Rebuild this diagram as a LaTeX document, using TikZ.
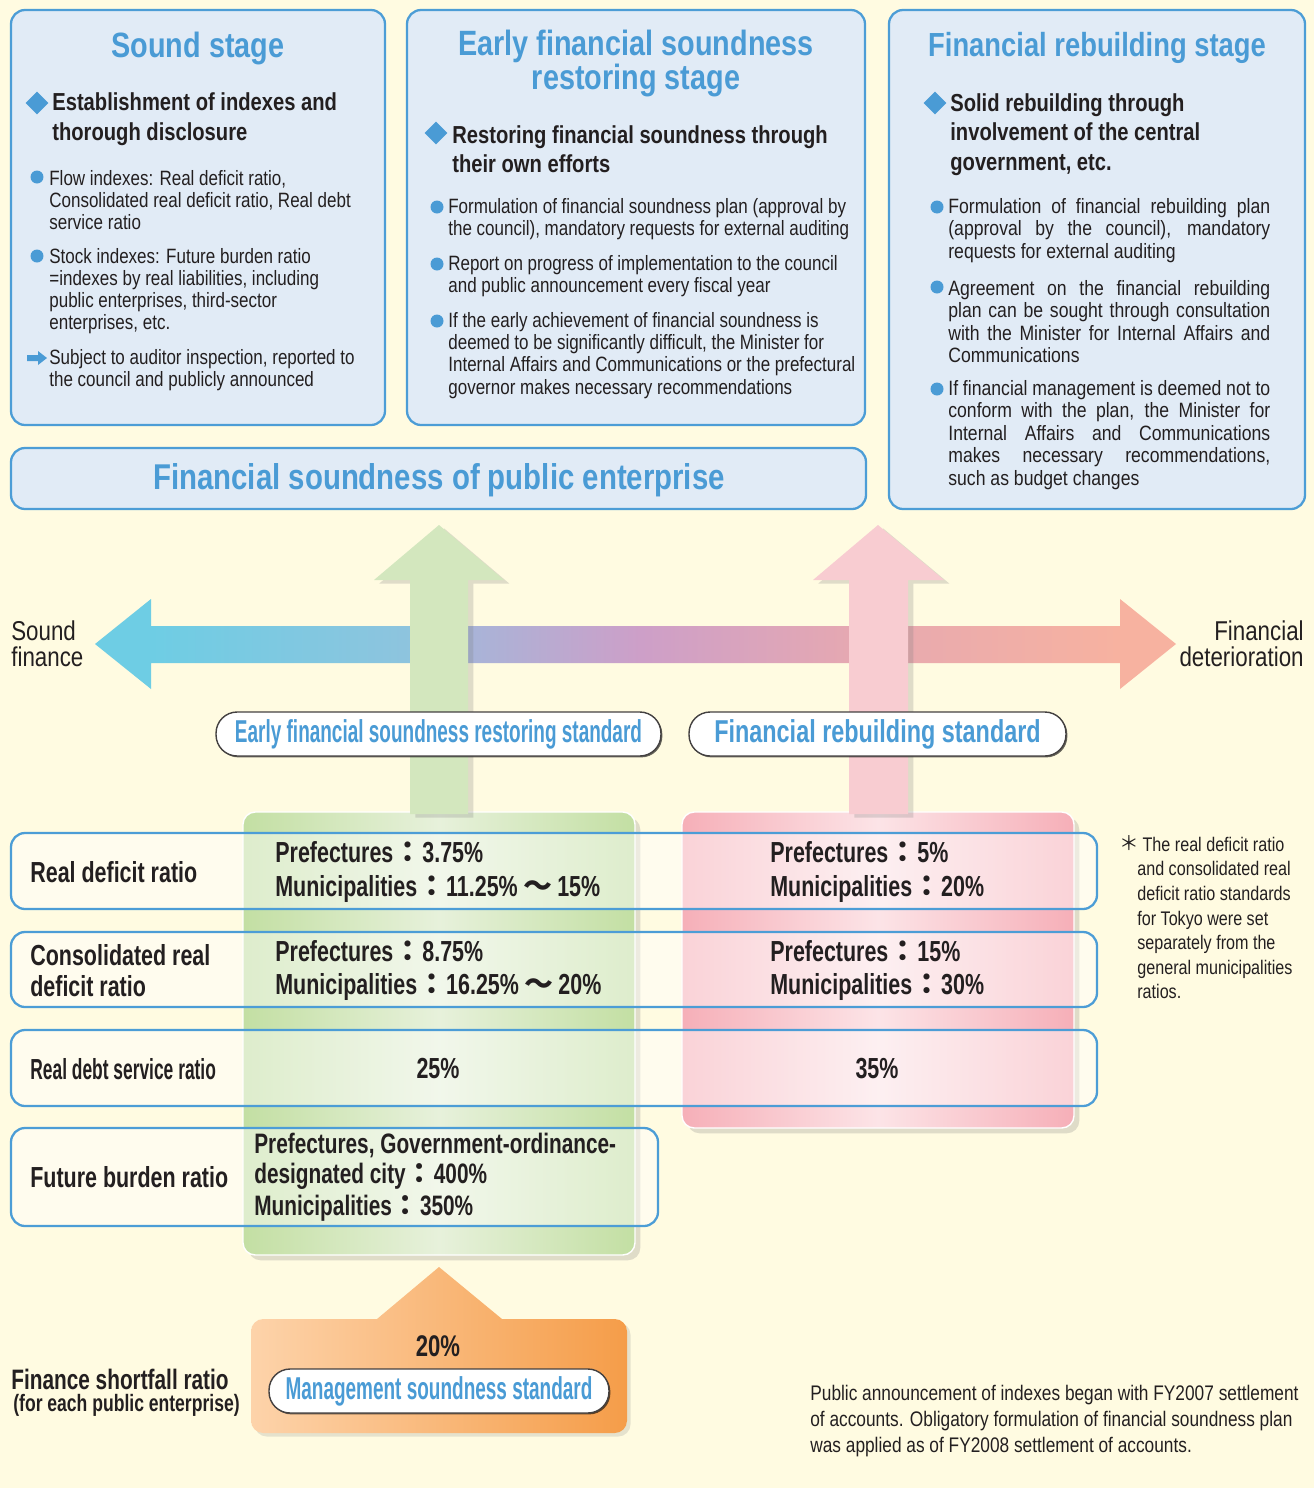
\documentclass[tikz,border=0pt]{standalone}
\usepackage{fontspec}
\setmainfont{Liberation Sans}[FakeStretch=0.82]
\newfontfamily\condfont{Liberation Sans}[FakeStretch=0.74]
\newfontfamily\xcondfont{Liberation Sans}[FakeStretch=0.6]
\newfontfamily\widefont{Liberation Sans}[FakeStretch=0.85]
\newfontfamily\cjkfont{Noto Sans CJK JP}
\usepackage{tikz}
\usetikzlibrary{positioning,shapes.geometric,shadows}
\usepackage{xcolor}
\definecolor{pageColor}{HTML}{FFFBE1}
\definecolor{panelColor}{HTML}{E1EBF6}
\definecolor{frameColor}{HTML}{4C9DD6}
\definecolor{titleColor}{HTML}{4A9BD5}
\definecolor{inkColor}{HTML}{231F20}
\definecolor{soundColor}{HTML}{6ECDE4}
\definecolor{trendBlue}{HTML}{8EC4DE}
\definecolor{trendLilac}{HTML}{A8B4D8}
\definecolor{trendMauve}{HTML}{CD9FC8}
\definecolor{trendRose}{HTML}{E5A8B2}
\definecolor{badColor}{HTML}{F7B2A0}
\definecolor{greenEdge}{HTML}{C3DFA3}
\definecolor{greenMid}{HTML}{E7F1DB}
\definecolor{greenArrow}{HTML}{D3E7BE}
\definecolor{pinkEdge}{HTML}{F6AFB8}
\definecolor{pinkMid}{HTML}{FCE4E7}
\definecolor{pinkArrow}{HTML}{F8CCD1}
\definecolor{orangeLight}{HTML}{FDD3AA}
\definecolor{orangeDark}{HTML}{F59D49}
\pgfdeclarehorizontalshading{trendbar}{100bp}{%
  color(0bp)=(soundColor); color(27.6bp)=(soundColor);
  color(39.6bp)=(trendBlue); color(42.3bp)=(trendLilac);
  color(50.2bp)=(trendMauve); color(59.8bp)=(trendRose);
  color(72.4bp)=(badColor); color(100bp)=(badColor)}
\newcommand{\fwcolon}{\smash{\cjkfont ：}}
\newcommand{\fwwave}{\kern3pt\smash{\cjkfont ～}\kern3pt}
\newcommand{\fwstar}{{\cjkfont ＊}}
\newcommand{\spreadline}[1]{\makebox[6.44cm][s]{#1}}

\begin{document}
\begin{tikzpicture}[
    x=0.02cm, y=-0.02cm,
    panel/.style={draw=frameColor, line width=1.3pt, fill=panelColor, rounded corners=8pt},
    heading/.style={font=\bfseries\fontsize{20}{17.6}\selectfont, text=titleColor, align=center, inner sep=0pt},
    lead/.style={font=\bfseries\fontsize{14}{16.8}\selectfont, text=inkColor, align=left, anchor=west, inner sep=0pt},
    body/.style={font=\fontsize{11.8}{12.6}\selectfont, text=inkColor, align=left, anchor=west, inner sep=0pt},
    widebody/.style={body, font=\widefont\fontsize{11.8}{12.8}\selectfont},
    gem/.style={diamond, fill=titleColor, minimum size=0.46cm, inner sep=0pt},
    bulletdot/.style={circle, fill=titleColor, minimum size=0.26cm, inner sep=0pt},
    sidelabel/.style={font=\fontsize{15.5}{14.8}\selectfont, text=inkColor, inner sep=0pt},
    uparrow/.style={drop shadow={shadow xshift=3pt, shadow yshift=-2pt, opacity=0.25}},
    column/.style={draw=white, line width=0.8pt, rounded corners=7pt, drop shadow={shadow xshift=3pt, shadow yshift=-3pt, opacity=0.25}},
    pill/.style={draw=inkColor!85, line width=0.8pt, fill=white, rounded corners=12pt, inner sep=0pt, minimum height=0.88cm, text=titleColor,
      drop shadow={shadow xshift=0.8pt, shadow yshift=-0.8pt, opacity=0.6, fill=black}},
    rowframe/.style={draw=frameColor, line width=1.3pt, fill=white, fill opacity=0.45, rounded corners=8pt},
    rowlabel/.style={font=\condfont\bfseries\fontsize{16.5}{17.6}\selectfont, text=inkColor, align=left, anchor=west, inner sep=0pt},
    cellText/.style={font=\condfont\bfseries\fontsize{16.5}{19.3}\selectfont, text=inkColor, align=left, anchor=west, inner sep=0pt},
    notetext/.style={font=\fontsize{11.2}{14}\selectfont, text=inkColor, align=left, anchor=west, inner sep=0pt},
  ]

  % Page
  \useasboundingbox (0,0) rectangle (1314,1488);
  \fill[pageColor] (0,0) rectangle (1314,1488);

  % Stage panels
  \draw[panel] (11,10) rectangle (385,425);
  \draw[panel] (407,10) rectangle (865,425);
  \draw[panel] (889,10) rectangle (1305,509);
  \draw[panel] (11,448) rectangle (866,509);

  % Sound stage
  \node[heading] (soundTitle) at (198,48) {Sound stage};
  \node[gem] (soundGem) at (37,103) {};
  \node[lead] (soundLead) at (52,119) {Establishment of indexes and\\thorough disclosure};
  \node[bulletdot] (soundDotA) at (37,177) {};
  \node[body] (soundTextA) at (49,200) {Flow indexes: Real deficit ratio,\\Consolidated real deficit ratio, Real debt\\service ratio};
  \node[bulletdot] (soundDotB) at (37,256) {};
  \node[body] (soundTextB) at (49,291) {Stock indexes: Future burden ratio\\=indexes by real liabilities, including\\public enterprises, third-sector\\enterprises, etc.};
  \fill[titleColor] (27,355) -- (38,355) -- (38,351) -- (47,358) -- (38,365) -- (38,361) -- (27,361) -- cycle;
  \node[body] (soundTextC) at (49,370.5) {Subject to auditor inspection, reported to\\the council and publicly announced};

  % Early restoring stage
  \node[heading] (earlyTitle) at (636,63.5) {Early financial soundness\\restoring stage};
  \node[gem] (earlyGem) at (436,133) {};
  \node[lead] (earlyLead) at (452,149) {Restoring financial soundness through\\their own efforts};
  \node[bulletdot] (earlyDotA) at (437,207) {};
  \node[body] (earlyTextA) at (448,219) {Formulation of financial soundness plan (approval by\\the council), mandatory requests for external auditing};
  \node[bulletdot] (earlyDotB) at (437,264) {};
  \node[body] (earlyTextB) at (448,276) {Report on progress of implementation to the council\\and public announcement every fiscal year};
  \node[bulletdot] (earlyDotC) at (437,321) {};
  \node[body] (earlyTextC) at (448,355.5) {If the early achievement of financial soundness is\\deemed to be significantly difficult, the Minister for\\Internal Affairs and Communications or the prefectural\\governor makes necessary recommendations};

  % Rebuilding stage
  \node[heading, font=\bfseries\fontsize{19}{17.6}\selectfont] (rebuildTitle) at (1097,48) {Financial rebuilding stage};
  \node[gem] (rebuildGem) at (935,103) {};
  \node[lead] (rebuildLead) at (950,134.5) {Solid rebuilding through\\involvement of the central\\government, etc.};
  \node[bulletdot] (rebuildDotA) at (937,207) {};
  \node[widebody] (rebuildTextA) at (948,230.5) {\spreadline{Formulation of financial rebuilding plan}\\\spreadline{(approval by the council), mandatory}\\requests for external auditing};
  \node[bulletdot] (rebuildDotB) at (937,287) {};
  \node[widebody] (rebuildTextB) at (948,321.5) {\spreadline{Agreement on the financial rebuilding}\\\spreadline{plan can be sought through consultation}\\\spreadline{with the Minister for Internal Affairs and}\\Communications};
  \node[bulletdot] (rebuildDotC) at (937,389) {};
  \node[widebody] (rebuildTextC) at (948,435) {\spreadline{If financial management is deemed not to}\\\spreadline{conform with the plan, the Minister for}\\\spreadline{Internal Affairs and Communications}\\\spreadline{makes necessary recommendations,}\\such as budget changes};

  % Banner
  \node[heading, font=\bfseries\fontsize{20.4}{20}\selectfont] (bannerTitle) at (439,480) {Financial soundness of public enterprise};

  % Trend arrow
  \shade[shading=trendbar] (95,644) -- (151,599) -- (151,626) -- (1120,626) -- (1120,599) -- (1176,644)
    -- (1120,689) -- (1120,663) -- (151,663) -- (151,689) -- cycle;
  \node[sidelabel, anchor=west, align=left] (soundLbl) at (11,644) {Sound\\finance};
  \node[sidelabel, anchor=east, align=right] (worseLbl) at (1304,644) {Financial\\deterioration};

  % Standard columns
  \path[column, left color=greenEdge, right color=greenEdge, middle color=greenMid] (243,812) rectangle (635,1255);
  \path[column, left color=pinkEdge, right color=pinkEdge, middle color=pinkMid] (682,812) rectangle (1074,1128);
  \path[uparrow, fill=greenArrow] (410,814) -- (410,580) -- (374,580) -- (439,525) -- (504,580) -- (468,580) -- (468,814) -- cycle;
  \path[uparrow, fill=pinkArrow] (849,814) -- (849,580) -- (813,580) -- (878,525) -- (944,580) -- (908,580) -- (908,814) -- cycle;

  \node[pill, minimum width=8.9cm, font=\xcondfont\bfseries\fontsize{18}{20}\selectfont] (earlyStd) at (438.5,734) {Early financial soundness restoring standard};
  \node[pill, minimum width=7.54cm, font=\condfont\bfseries\fontsize{18}{20}\selectfont] (rebuildStd) at (877.5,734) {Financial rebuilding standard};

  % Ratio rows
  \path[rowframe] (11,833) rectangle (1097,909);
  \path[rowframe] (11,932) rectangle (1097,1007);
  \path[rowframe] (11,1030) rectangle (1097,1106);
  \path[rowframe] (11,1128) rectangle (658,1226);

  \node[rowlabel] (deficitLbl) at (30,872) {Real deficit ratio};
  \node[rowlabel] (consolLbl) at (30,970.5) {Consolidated real\\deficit ratio};
  \node[rowlabel, font=\xcondfont\bfseries\fontsize{16.5}{17.6}\selectfont] (debtLbl) at (30,1069) {Real debt service ratio};
  \node[rowlabel] (futureLbl) at (30,1177) {Future burden ratio};

  \node[cellText] (deficitEarly) at (275,872) {Prefectures\fwcolon 3.75\%\\Municipalities\fwcolon 11.25\%\fwwave 15\%};
  \node[cellText] (deficitRebuild) at (770,872) {Prefectures\fwcolon 5\%\\Municipalities\fwcolon 20\%};
  \node[cellText] (consolEarly) at (275,970.5) {Prefectures\fwcolon 8.75\%\\Municipalities\fwcolon 16.25\%\fwwave 20\%};
  \node[cellText] (consolRebuild) at (770,970.5) {Prefectures\fwcolon 15\%\\Municipalities\fwcolon 30\%};
  \node[cellText, anchor=center] (debtEarly) at (438,1069) {25\%};
  \node[cellText, anchor=center] (debtRebuild) at (877,1069) {35\%};
  \node[cellText, font=\condfont\bfseries\fontsize{16}{17}\selectfont] (futureEarlyA) at (254,1145) {Prefectures, Government-ordinance-};
  \node[cellText, font=\condfont\bfseries\fontsize{16}{17}\selectfont] (futureEarlyB) at (254,1176) {designated city\fwcolon 400\%};
  \node[cellText, font=\condfont\bfseries\fontsize{16}{17}\selectfont] (futureEarlyC) at (254,1208) {Municipalities\fwcolon 350\%};

  % Tokyo note
  \node[notetext] (noteStar) at (1119,843) {\fwstar};
  \node[notetext] (noteText) at (1137,918) {\hspace{3pt}The real deficit ratio\\and consolidated real\\deficit ratio standards\\for Tokyo were set\\separately from the\\general municipalities\\ratios.};

  % Management soundness
  \shade[left color=orangeLight, right color=orangeDark, drop shadow={shadow xshift=2pt, shadow yshift=-2pt, opacity=0.2}]
    (439,1267) -- (502,1319) [rounded corners=7pt] -- (627,1319) -- (627,1433) -- (251,1433) -- (251,1319) [sharp corners] -- (377,1319) -- cycle;
  \node[font=\condfont\bfseries\fontsize{17}{20}\selectfont, text=inkColor] (shortPct) at (438,1346) {20\%};
  \node[pill, minimum width=6.8cm, font=\xcondfont\bfseries\fontsize{18}{20}\selectfont] (mgmtStd) at (439,1391) {Management soundness standard};
  \node[rowlabel, font=\condfont\bfseries\fontsize{16}{18}\selectfont] (shortLbl) at (11,1379) {Finance shortfall ratio};
  \node[rowlabel, font=\condfont\bfseries\fontsize{13.5}{15}\selectfont] (shortSub) at (13,1405) {(for each public enterprise)};

  % Footnote
  \node[body, font=\fontsize{12}{15}\selectfont] (footNote) at (810,1421) {Public announcement of indexes began with FY2007 settlement\\of accounts. Obligatory formulation of financial soundness plan\\was applied as of FY2008 settlement of accounts.};

\end{tikzpicture}
\end{document}
